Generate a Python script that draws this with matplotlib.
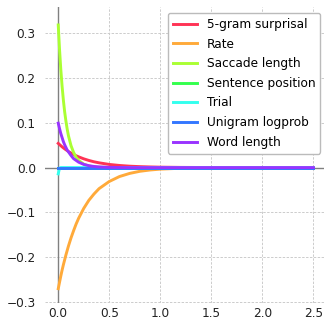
import matplotlib
matplotlib.use("Agg")
import matplotlib.pyplot as plt

# lag (x) and the fitted effect curves
xs = [0.0, 0.0125, 0.025, 0.0375, 0.05, 0.0625, 0.075, 0.0875, 0.1, 0.125, 0.15,
      0.175, 0.2, 0.25, 0.3, 0.35, 0.4, 0.5, 0.6, 0.7, 0.8, 0.9, 1.0, 1.2, 1.5,
      2.0, 2.5]

fivegram = [0.054, 0.0513, 0.0488, 0.0463, 0.044, 0.0418, 0.0398, 0.0378, 0.0359,
            0.0324, 0.0293, 0.0264, 0.0239, 0.0195, 0.0159, 0.0129, 0.0106, 0.007,
            0.0047, 0.0031, 0.0021, 0.0014, 0.0009, 0.0004, 0.0001, 0.0, 0.0]
rate = [-0.270, -0.256, -0.242, -0.229, -0.217, -0.206, -0.195, -0.185, -0.175,
        -0.157, -0.141, -0.126, -0.113, -0.091, -0.073, -0.059, -0.047, -0.031,
        -0.020, -0.013, -0.0083, -0.0054, -0.0035, -0.0015, -0.0004, 0.0, 0.0]
saccade = [0.318, 0.264, 0.219, 0.182, 0.151, 0.125, 0.104, 0.086, 0.071, 0.049,
           0.034, 0.023, 0.016, 0.0076, 0.0036, 0.0017, 0.0008, 0.0002, 0.0, 0.0,
           0.0, 0.0, 0.0, 0.0, 0.0, 0.0, 0.0]
sentence = [0.0] * 27
trial = [-0.014, -0.001, 0.0, 0.0, 0.0, 0.0, 0.0, 0.0, 0.0, 0.0, 0.0, 0.0, 0.0,
         0.0, 0.0, 0.0, 0.0, 0.0, 0.0, 0.0, 0.0, 0.0, 0.0, 0.0, 0.0, 0.0, 0.0]
unigram = [0.0] * 27
wordlen = [0.099, 0.087, 0.076, 0.067, 0.058, 0.051, 0.045, 0.039, 0.035, 0.027,
           0.020, 0.016, 0.012, 0.0071, 0.0042, 0.0025, 0.0015, 0.0005, 0.0002,
           0.0, 0.0, 0.0, 0.0, 0.0, 0.0, 0.0, 0.0]

labels = ["5-gram surprisal", "Rate", "Saccade length", "Sentence position",
          "Trial", "Unigram logprob", "Word length"]
colors = ["#ff3355", "#ffaa3a", "#aaff33", "#33ff4d", "#33ffee", "#3377ff", "#9933ff"]
series = [fivegram, rate, saccade, sentence, trial, unigram, wordlen]

plt.rcParams["font.size"] = 8.7

fig = plt.figure(figsize=(3.24, 3.24), dpi=100)
ax = fig.add_axes([0.1404, 0.0648, 0.866, 0.9135])

ax.axhline(0, color="gray", lw=1, zorder=1)
ax.axvline(0, color="gray", lw=1, zorder=1)

for ys, lab, c in zip(series, labels, colors):
    ax.plot(xs, ys, color=c, lw=2.1, label=lab, zorder=2)

ax.set_xlim(-0.125, 2.625)
ax.set_ylim(-0.302, 0.358)
ax.set_xticks([0, 0.5, 1.0, 1.5, 2.0, 2.5])
ax.set_yticks([-0.3, -0.2, -0.1, 0.0, 0.1, 0.2, 0.3])
ax.grid(True, color="#cccccc", lw=0.7, linestyle=(0, (2.5, 1.5)))
ax.set_axisbelow(True)
for s in ax.spines.values():
    s.set_visible(False)
ax.tick_params(length=0, colors="#222222")
ax.tick_params(axis="y", pad=7)
ax.tick_params(axis="x", pad=3)

leg = ax.legend(loc="upper right", frameon=True, framealpha=1, labelspacing=0.55)
leg.get_frame().set_edgecolor("#bbbbbb")

fig.savefig("out.png", dpi=100)
